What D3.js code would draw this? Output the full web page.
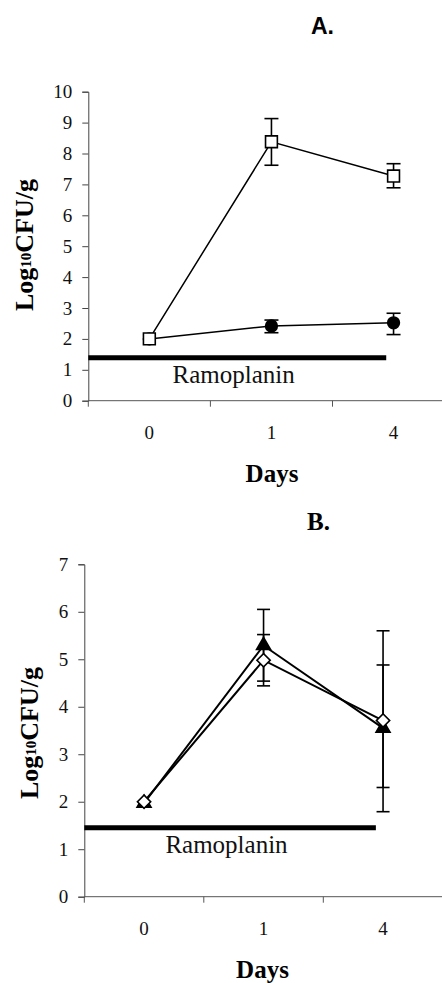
<!DOCTYPE html>
<html>
<head>
<meta charset="utf-8">
<script src="https://cdn.jsdelivr.net/npm/d3@7"></script>
<style>
html,body{margin:0;padding:0;background:#fff;}
svg{display:block;}
.serif{font-family:"Liberation Serif","Times New Roman",Times,"DejaVu Serif",serif;}
.sans{font-family:"Liberation Sans",Arial,Helvetica,sans-serif;}
</style>
</head>
<body>
<svg id="chart" width="442" height="983"></svg>
<script>
// ---------- DATA ----------
const days = ["0", "1", "4"];

// Panel A
const aSquare   = [2.00, 8.38, 7.27];
const aSquareHi = [null, 9.13, 7.67];
const aSquareLo = [null, 7.62, 6.89];
const aCircle   = [2.00, 2.42, 2.52];
const aCircleHi = [null, 2.61, 2.83];
const aCircleLo = [null, 2.20, 2.14];
const yTicksA = [0, 1, 2, 3, 4, 5, 6, 7, 8, 9, 10];
const ramoplaninA = 1.39;

// Panel B
const bTriangle   = [1.97, 5.29, 3.55];
const bTriangleHi = [null, 6.05, 4.88];
const bTriangleLo = [null, 4.44, 2.30];
const bDiamond    = [2.00, 4.98, 3.71];
const bDiamondHi  = [null, 5.52, 5.60];
const bDiamondLo  = [null, 4.54, 1.79];
const yTicksB = [0, 1, 2, 3, 4, 5, 6, 7];
const ramoplaninB = 1.45;

// Ramoplanin bar span, in units of day-bands from the axis origin
const ramoplaninSpan = [0, 2.44];
const ramoplaninLabelPos = 1.19;

const yLabelMain1 = "Log", yLabelSub = "10", yLabelMain2 = "CFU/g";
const xLabel = "Days";
const drugLabel = "Ramoplanin";

// ---------- DRAW ----------
const svg = d3.select("#chart");
const W = 442;

function panel(cfg) {
  const g = svg.append("g");
  const x = d3.scaleBand().domain(days).range(cfg.xRange).paddingInner(0).paddingOuter(0);
  const y = d3.scaleLinear().domain(cfg.yDomain).range(cfg.yRange);
  const bandUnit = d3.scaleLinear().domain([0, 1]).range([cfg.xRange[0], cfg.xRange[0] + x.step()]);
  const cx = d => x(d) + x.bandwidth() / 2;
  const y0 = y(0);

  // y axis
  const ya = d3.axisLeft(y).tickValues(cfg.yTicks).tickSize(6).tickPadding(10).tickFormat(d3.format("d"));
  const yg = g.append("g").attr("transform", `translate(${cfg.xRange[0]},0)`).call(ya)
    .attr("font-family", null).attr("font-size", null);
  yg.select(".domain").attr("stroke", "#444").attr("stroke-width", 1);
  yg.selectAll(".tick line").attr("stroke", "#444");
  yg.selectAll(".tick text").attr("class", "serif").style("font-size", "19px").attr("fill", "#111");

  // x axis line to right edge
  g.append("line").attr("x1", cfg.xRange[0]).attr("x2", W).attr("y1", y0).attr("y2", y0)
    .attr("stroke", "#555").attr("stroke-width", 1);
  // boundary ticks
  g.selectAll(".xb").data(d3.range(0, days.length + 1)).join("line")
    .attr("x1", d => bandUnit(d)).attr("x2", d => bandUnit(d))
    .attr("y1", y0).attr("y2", y0 + 6).attr("stroke", "#555");
  // category labels
  g.selectAll(".xl").data(days).join("text").attr("class", "serif")
    .attr("x", cx).attr("y", y0 + 38).attr("text-anchor", "middle")
    .style("font-size", "19px").attr("fill", "#111").text(d => d);

  // x title
  g.append("text").attr("class", "serif").attr("x", cfg.xTitle[0]).attr("y", cfg.xTitle[1]).attr("text-anchor", "middle")
    .style("font-weight", "bold").style("font-size", "25px").text(xLabel);

  // y title
  const yt = g.append("text").attr("class", "serif")
    .attr("transform", `translate(${cfg.yTitle[0]},${cfg.yTitle[1]}) rotate(-90)`)
    .attr("text-anchor", "middle").style("font-weight", "bold").style("font-size", "26px");
  yt.append("tspan").text(yLabelMain1);
  yt.append("tspan").style("font-size", "15px").attr("dy", -2).text(yLabelSub);
  yt.append("tspan").attr("dy", 2).text(yLabelMain2);

  // panel letter
  g.append("text").attr("class", cfg.titleFont).attr("x", cfg.title[0]).attr("y", cfg.title[1])
    .style("font-weight", "bold").style("font-size", cfg.titleSize + "px").text(cfg.titleText);

  // ramoplanin bar
  g.append("line").attr("x1", bandUnit(ramoplaninSpan[0])).attr("x2", bandUnit(ramoplaninSpan[1]))
    .attr("y1", y(cfg.ramo)).attr("y2", y(cfg.ramo)).attr("stroke", "#000").attr("stroke-width", 5);
  g.append("text").attr("class", "serif").attr("x", bandUnit(ramoplaninLabelPos)).attr("y", y(cfg.ramo) + 25)
    .attr("text-anchor", "middle").style("font-size", "25px").attr("fill", "#111").text(drugLabel);

  // series
  cfg.series.forEach(s => {
    const pts = days.map((d, i) => ({d, v: s.vals[i], hi: s.hi[i], lo: s.lo[i]}));
    const eb = pts.filter(p => p.hi != null);
    g.selectAll(null).data(eb).join("line")
      .attr("x1", p => cx(p.d)).attr("x2", p => cx(p.d))
      .attr("y1", p => y(p.hi)).attr("y2", p => y(p.lo)).attr("stroke", "#000").attr("stroke-width", 1.6);
    ["hi", "lo"].forEach(k => {
      g.selectAll(null).data(eb).join("line")
        .attr("x1", p => cx(p.d) - cfg.cap).attr("x2", p => cx(p.d) + cfg.cap)
        .attr("y1", p => y(p[k])).attr("y2", p => y(p[k])).attr("stroke", "#000").attr("stroke-width", 1.6);
    });
    g.append("path").datum(pts)
      .attr("d", d3.line().x(p => cx(p.d)).y(p => y(p.v)))
      .attr("fill", "none").attr("stroke", "#000").attr("stroke-width", cfg.lw);
    g.selectAll(null).data(pts).join("path")
      .attr("transform", p => `translate(${cx(p.d)},${y(p.v)}) rotate(${s.rot || 0})`)
      .attr("d", d3.symbol().type(s.sym).size(s.size)())
      .attr("fill", s.fill).attr("stroke", "#000").attr("stroke-width", 1.6);
  });
}

panel({
  xRange: [88.3, 454.6], yDomain: [0, 10], yRange: [400.7, 91.7], yTicks: yTicksA,
  xTitle: [272, 481.7], yTitle: [33, 245], title: [311, 34], titleFont: "sans", titleSize: 23, titleText: "A.",
  ramo: ramoplaninA, cap: 7, lw: 1.5,
  series: [
    {vals: aCircle, hi: aCircleHi, lo: aCircleLo, sym: d3.symbolCircle, size: 108, fill: "#000"},
    {vals: aSquare, hi: aSquareHi, lo: aSquareLo, sym: d3.symbolSquare, size: 140, fill: "#fff"}
  ]
});

panel({
  xRange: [84.3, 442.8], yDomain: [0, 7], yRange: [896.7, 564.3], yTicks: yTicksB,
  xTitle: [262.5, 978.3], yTitle: [38, 733], title: [307, 530], titleFont: "serif", titleSize: 25, titleText: "B.",
  ramo: ramoplaninB, cap: 6.5, lw: 2,
  series: [
    {vals: bTriangle, hi: bTriangleHi, lo: bTriangleLo, sym: d3.symbolTriangle, size: 85, fill: "#000"},
    {vals: bDiamond, hi: bDiamondHi, lo: bDiamondLo, sym: d3.symbolSquare, size: 88, fill: "#fff", rot: 45}
  ]
});
</script>
</body>
</html>
